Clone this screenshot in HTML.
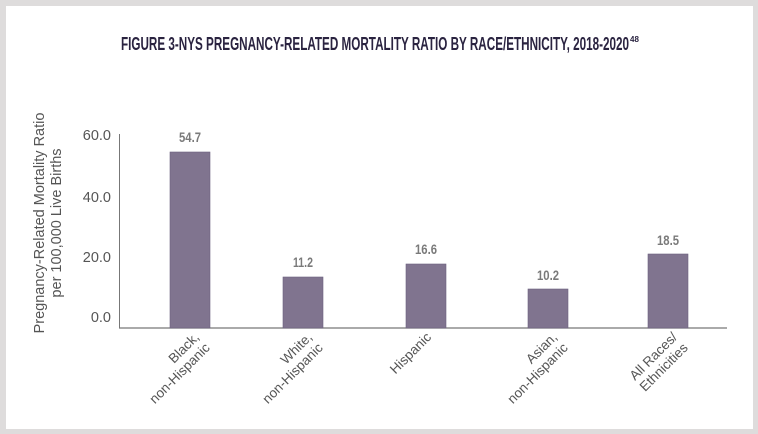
<!DOCTYPE html>
<html><head><style>
html,body{margin:0;padding:0;background:#dedcdc;}
</style></head><body>
<svg width="758" height="434" xmlns="http://www.w3.org/2000/svg" style="display:block">
<rect x="0" y="0" width="758" height="434" fill="#dedcdc"/>
<rect x="6" y="6" width="747" height="423" fill="#fff"/>
<text x="121" y="50" font-family="Liberation Sans Narrow, Liberation Sans, sans-serif" font-weight="bold" font-size="18.5" fill="#2a2340" textLength="508" lengthAdjust="spacingAndGlyphs">FIGURE 3-NYS PREGNANCY-RELATED MORTALITY RATIO BY RACE/ETHNICITY, 2018-2020</text>
<text x="630" y="42" font-family="Liberation Sans, sans-serif" font-weight="bold" font-size="8" fill="#2a2340">48</text>
<g font-family="Liberation Sans, sans-serif" font-size="14.5" fill="#555" text-anchor="end">
<text x="111" y="140">60.0</text>
<text x="111" y="202">40.0</text>
<text x="111" y="262">20.0</text>
<text x="111" y="322">0.0</text>
</g>
<g font-family="Liberation Sans, sans-serif" font-size="14.5" fill="#555" text-anchor="middle" transform="translate(48,223) rotate(-90)">
<text x="0" y="-4">Pregnancy-Related Mortality Ratio</text>
<text x="0" y="13">per 100,000 Live Births</text>
</g>
<line x1="119.5" y1="134" x2="119.5" y2="328" stroke="#777" stroke-width="1"/>
<line x1="119" y1="328" x2="727" y2="328" stroke="#777" stroke-width="1.3"/>
<g fill="#80748f" stroke="#6d6180" stroke-width="0.6">
<rect x="170" y="152" width="40" height="176"/>
<rect x="283" y="277" width="40" height="51"/>
<rect x="406" y="264" width="40" height="64"/>
<rect x="528" y="289" width="40" height="39"/>
<rect x="648" y="254" width="40" height="74"/>
</g>
<g font-family="Liberation Sans Narrow, Liberation Sans, sans-serif" font-weight="bold" font-size="14" fill="#7a7a7a" text-anchor="middle">
<text x="190" y="142" textLength="22" lengthAdjust="spacingAndGlyphs">54.7</text>
<text x="303" y="267" textLength="20" lengthAdjust="spacingAndGlyphs">11.2</text>
<text x="426" y="254" textLength="22" lengthAdjust="spacingAndGlyphs">16.6</text>
<text x="548" y="280" textLength="22" lengthAdjust="spacingAndGlyphs">10.2</text>
<text x="668" y="245" textLength="22" lengthAdjust="spacingAndGlyphs">18.5</text>
</g>
<g font-family="Liberation Sans, sans-serif" font-size="13.5" fill="#555" text-anchor="end">
<g transform="translate(200,338) rotate(-45)"><text x="0" y="0">Black,</text><text x="0" y="15">non-Hispanic</text></g>
<g transform="translate(313,338) rotate(-45)"><text x="0" y="0">White,</text><text x="0" y="15">non-Hispanic</text></g>
<g transform="translate(432,338) rotate(-45)"><text x="0" y="0">Hispanic</text></g>
<g transform="translate(558,338) rotate(-45)"><text x="0" y="0">Asian,</text><text x="0" y="15">non-Hispanic</text></g>
<g transform="translate(678,338) rotate(-45)"><text x="0" y="0">All Races/</text><text x="0" y="15">Ethnicities</text></g>
</g>
</svg>
</body></html>
